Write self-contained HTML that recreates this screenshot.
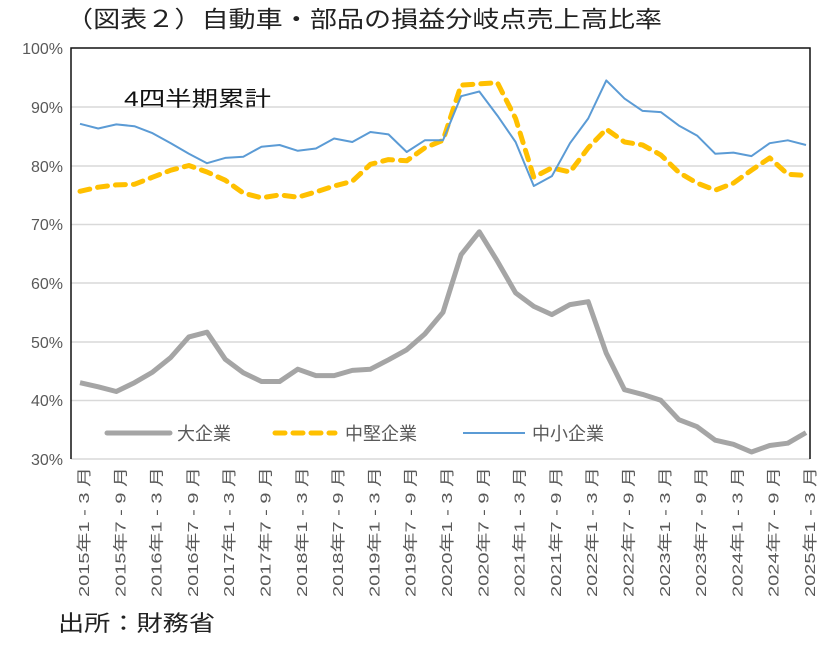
<!DOCTYPE html>
<html><head><meta charset="utf-8"><style>
body{margin:0;background:#fff;}
text{font-family:"Liberation Sans","Noto Sans CJK JP",sans-serif;}
</style></head><body>
<svg width="826" height="640" xmlns="http://www.w3.org/2000/svg">
<text x="66" y="27" font-size="23" fill="#222" textLength="596" lengthAdjust="spacingAndGlyphs">（図表２）自動車・部品の損益分岐点売上高比率</text>
<g stroke="#d9d9d9" stroke-width="1.5">
<line x1="71" y1="107" x2="810" y2="107"/><line x1="71" y1="166" x2="810" y2="166"/>
<line x1="71" y1="224.5" x2="810" y2="224.5"/><line x1="71" y1="283" x2="810" y2="283"/>
<line x1="71" y1="342" x2="810" y2="342"/><line x1="71" y1="400.5" x2="810" y2="400.5"/>
<line x1="71" y1="459" x2="810" y2="459"/>
</g>
<path d="M71 459 V48 H810 V459" fill="none" stroke="#111" stroke-width="1.5"/>
<g font-size="16" fill="#595959" text-anchor="end">
<text x="63" y="54">100%</text><text x="63" y="113">90%</text><text x="63" y="172">80%</text>
<text x="63" y="230">70%</text><text x="63" y="289">60%</text><text x="63" y="348">50%</text>
<text x="63" y="406">40%</text><text x="63" y="465">30%</text>
</g>
<text x="124" y="106" font-size="21" fill="#111" textLength="147" lengthAdjust="spacingAndGlyphs">4四半期累計</text>
<g id="lines"></g>
<g id="xl" font-size="15" fill="#595959"></g>
<line x1="107" y1="433" x2="170" y2="433" stroke="#a5a5a5" stroke-width="5" stroke-linecap="round"/>
<text x="177" y="440" font-size="18" fill="#595959">大企業</text>
<line x1="275" y1="433" x2="335" y2="433" stroke="#ffc000" stroke-width="5" stroke-dasharray="10,8" stroke-linecap="round"/>
<text x="345" y="440" font-size="18" fill="#595959">中堅企業</text>
<line x1="463" y1="433" x2="525" y2="433" stroke="#5b9bd5" stroke-width="2"/>
<text x="532" y="440" font-size="18" fill="#595959">中小企業</text>
<text x="58" y="631" font-size="22" fill="#222" textLength="157" lengthAdjust="spacingAndGlyphs">出所：財務省</text>
</svg>
<script>
var g=[43,42.3,41.5,43,44.8,47.3,50.8,51.6,47,44.7,43.2,43.2,45.3,44.2,44.2,45.1,45.3,46.9,48.6,51.3,55,64.8,68.7,63.7,58.3,56,54.6,56.3,56.8,48,41.8,41,40,36.7,35.5,33.2,32.5,31.2,32.3,32.7,34.5];
var b=[87.1,86.3,87,86.7,85.5,83.8,82,80.4,81.3,81.5,83.2,83.5,82.5,82.9,84.6,84,85.7,85.3,82.3,84.3,84.3,91.8,92.6,88.5,84,76.5,78.2,83.8,88,94.5,91.4,89.3,89.1,86.8,85.1,82,82.2,81.6,83.8,84.3,83.5];
var y=[75.6,76.3,76.7,76.8,78,79.2,80,78.9,77.5,75.3,74.5,75,74.6,75.5,76.5,77.3,80.2,81,80.8,83,84.3,93.7,93.9,94.1,88,78,79.6,78.9,83,86.2,84,83.5,81.8,78.8,77,75.8,77,79.2,81.3,78.5,78.3];
function X(i){return 80+i*18.15}function Y(v){return 459-(v-30)*5.87}
function pts(a){return a.map(function(v,i){return X(i).toFixed(1)+","+Y(v).toFixed(1)}).join(" ")}
var NS="http://www.w3.org/2000/svg",L=document.getElementById("lines");
function pl(a,c,w,d){var p=document.createElementNS(NS,"polyline");p.setAttribute("points",pts(a));p.setAttribute("fill","none");p.setAttribute("stroke",c);p.setAttribute("stroke-width",w);p.setAttribute("stroke-linejoin","round");if(d){p.setAttribute("stroke-dasharray",d);p.setAttribute("stroke-linecap","round")}L.appendChild(p)}
pl(g,"#a5a5a5",5);pl(y,"#ffc000",5,"10,8");pl(b,"#5b9bd5",2);
var XL=document.getElementById("xl");
for(var k=0;k<=20;k++){var yr=2015+Math.floor(k/2);var s=yr+"年"+(k%2?"7 - 9 月":"1 - 3 月");
var t=document.createElementNS(NS,"text");var x=X(2*k)+9;t.setAttribute("transform","translate("+x+",597) rotate(-90)");t.setAttribute("textLength","130");t.setAttribute("lengthAdjust","spacingAndGlyphs");t.textContent=s;XL.appendChild(t)}
</script>
</body></html>
